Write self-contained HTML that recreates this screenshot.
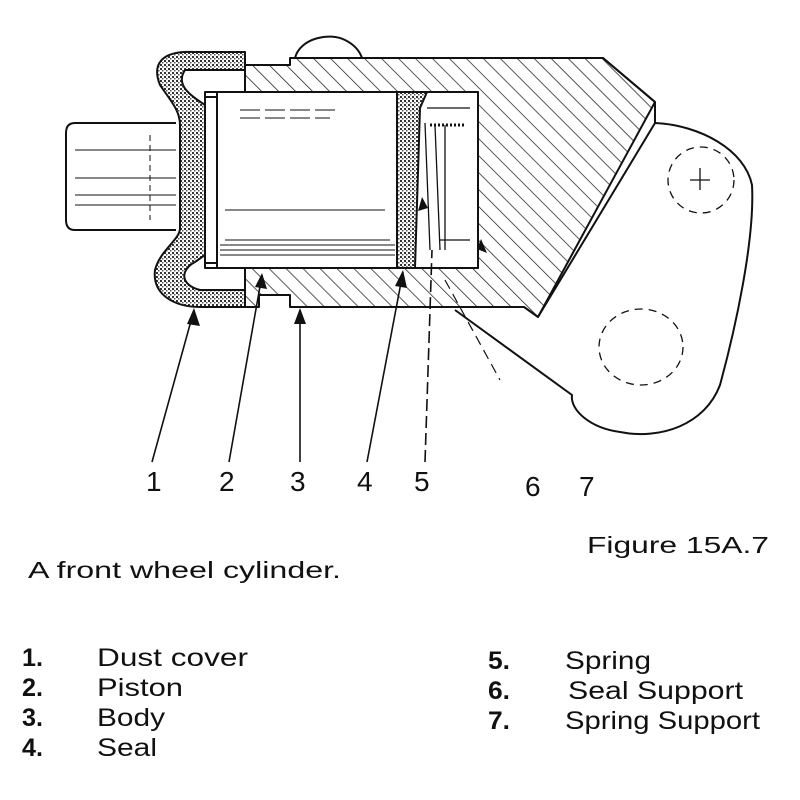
<!DOCTYPE html>
<html><head><meta charset="utf-8"><style>
html,body{margin:0;padding:0;background:#fff;}
svg{display:block;}
text{font-family:"Liberation Sans",sans-serif;fill:#111;}
</style></head><body>
<svg width="800" height="800" viewBox="0 0 800 800" xmlns="http://www.w3.org/2000/svg">
<defs>
<pattern id="h" width="12" height="12" patternUnits="userSpaceOnUse" patternTransform="rotate(-45)">
<line x1="0" y1="0" x2="0" y2="12" stroke="#222" stroke-width="1.5"/>
</pattern>
<pattern id="s" width="4" height="4" patternUnits="userSpaceOnUse">
<rect width="4" height="4" fill="#fff"/><rect x="0" y="0" width="2" height="2" fill="#333"/><rect x="2" y="2" width="1.5" height="1.5" fill="#555"/>
</pattern>
</defs>
<g stroke="#111" stroke-width="2" fill="none" stroke-linejoin="round">
<path d="M655,123 C700,125 745,150 752,185 C755,240 735,330 720,385 C705,425 660,440 620,432 C590,428 570,410 572,395 L455,310" fill="#fff"/>
<ellipse cx="701" cy="180" rx="33" ry="33" stroke-dasharray="8,6" stroke-width="1.3"/>
<ellipse cx="641" cy="347" rx="42" ry="38" stroke-dasharray="8,6" stroke-width="1.3"/>
<path d="M690,180 h20 M700,168 v22" stroke-width="1.3"/>
<path d="M295,58 C300,38 330,32 345,40 C355,45 360,52 362,58" fill="#fff"/>
<path d="M245,65 L290,65 L290,58 L603,58 L655,102 L538,317 L524,307 L290,307 L290,295 L259,295 L259,307 L245,307 Z" fill="url(#h)"/>
<path d="M603,58 L655,102 L655,123 L538,317" fill="none"/>
<rect x="205" y="92" width="273" height="176" fill="#fff"/>
<path d="M205,92 H478 V268 H205" />
<path d="M176,123 H75 Q66,123 66,133 V220 Q66,230 75,230 H176" fill="#fff"/>
<path d="M75,150 H176 M75,178 H176 M75,195 H176 M75,205 H176" stroke-width="1"/>
<path d="M150,135 V220" stroke-dasharray="6,4" stroke-width="1"/>
<path d="M195,52 C160,50 152,65 160,85 C170,100 180,110 180,125 L180,228 C180,240 160,250 155,270 C152,295 175,307 200,307 L245,307 L245,290 L200,290 C180,285 180,270 195,262 L205,255 L205,105 C190,95 175,85 185,70 L245,70 L245,52 Z" fill="url(#s)"/>
<rect x="217" y="92" width="180" height="176" fill="#fff"/>
<path d="M205,97 L217,97 M205,263 L217,263" />
<path d="M220,245 H395 M220,250 H395 M220,255 H395 M225,240 H390 M225,210 H385" stroke-width="1"/>
<path d="M240,110 H340 M240,118 H330" stroke-width="1" stroke-dasharray="20,5"/>
<path d="M397,92 L427,92 L420,108 L415,268 L397,268 Z" fill="url(#s)"/>
<path d="M427,108 H470 M425,123 L430,250 M435,125 L440,250 M445,125 V250 M440,240 H470" stroke-width="1.3"/>
<path d="M430,125 H465" stroke-width="3" stroke-dasharray="2,2"/>
<path d="M445,280 L500,380" stroke-dasharray="10,6" stroke-width="1.2"/>
<g stroke-width="1.6">
<path d="M152,462 L194,310"/>
<path d="M229,462 L262,275"/>
<path d="M300,462 L300,310"/>
<path d="M367,462 L403,272"/>
<path d="M425,462 L432,250" stroke-dasharray="12,5"/>
</g>
</g>
<g fill="#111">
<path d="M194,308 l-7,16 l13,2 z"/>
<path d="M262,273 l-7,14 l12,2 z"/>
<path d="M300,308 l-6,16 h12 z"/>
<path d="M403,270 l-8,16 l12,2 z"/>
<path d="M422,197 l-4,14 l10,-3 z"/>
<path d="M487,253 l-6,-14 l-4,10 z"/>
</g>
<g font-size="28">
<text x="146" y="491">1</text>
<text x="219" y="491">2</text>
<text x="290" y="491">3</text>
<text x="357" y="491">4</text>
<text x="414" y="491">5</text>
<text x="525" y="496">6</text>
<text x="579" y="496">7</text>
</g>
<text x="587" y="553" font-size="23" textLength="182" lengthAdjust="spacingAndGlyphs">Figure 15A.7</text>
<text x="28" y="578" font-size="23" textLength="313" lengthAdjust="spacingAndGlyphs">A front wheel cylinder.</text>
<g font-size="25">
<text x="22" y="666" font-weight="bold" textLength="21" lengthAdjust="spacingAndGlyphs">1.</text>
<text x="22" y="696" font-weight="bold" textLength="21" lengthAdjust="spacingAndGlyphs">2.</text>
<text x="22" y="726" font-weight="bold" textLength="21" lengthAdjust="spacingAndGlyphs">3.</text>
<text x="22" y="756" font-weight="bold" textLength="21" lengthAdjust="spacingAndGlyphs">4.</text>
<text x="97" y="666" textLength="151" lengthAdjust="spacingAndGlyphs">Dust cover</text>
<text x="97" y="696" textLength="86" lengthAdjust="spacingAndGlyphs">Piston</text>
<text x="97" y="726" textLength="68" lengthAdjust="spacingAndGlyphs">Body</text>
<text x="97" y="756" textLength="60" lengthAdjust="spacingAndGlyphs">Seal</text>
<text x="488" y="669" font-weight="bold" textLength="22" lengthAdjust="spacingAndGlyphs">5.</text>
<text x="488" y="699" font-weight="bold" textLength="22" lengthAdjust="spacingAndGlyphs">6.</text>
<text x="488" y="729" font-weight="bold" textLength="22" lengthAdjust="spacingAndGlyphs">7.</text>
<text x="565" y="669" textLength="86" lengthAdjust="spacingAndGlyphs">Spring</text>
<text x="568" y="699" textLength="175" lengthAdjust="spacingAndGlyphs">Seal Support</text>
<text x="565" y="729" textLength="195" lengthAdjust="spacingAndGlyphs">Spring Support</text>
</g>
</svg>
</body></html>
